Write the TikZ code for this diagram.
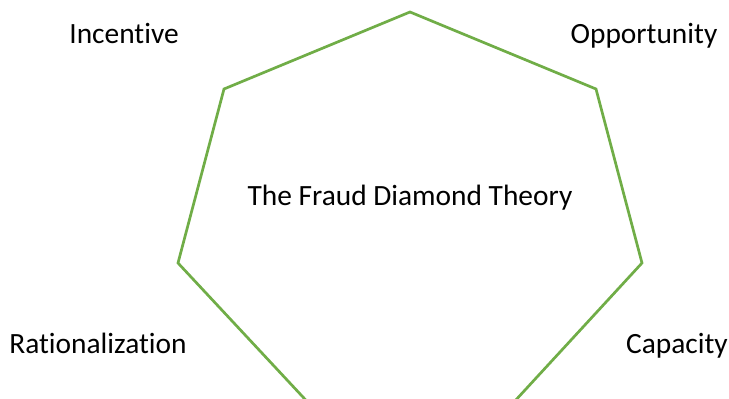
\documentclass[tikz,border=0pt]{standalone}
\usepackage{fontspec}
\setmainfont[Ligatures={NoCommon}]{Carlito}
\usetikzlibrary{positioning}
\definecolor{diamondgreen}{HTML}{70AD47}
\definecolor{labeltext}{HTML}{000000}
\tikzset{
  rim/.style={draw=diamondgreen, line width=2.7pt, line join=miter},
  factor/.style={font=\fontsize{29.4}{35}\selectfont, text=labeltext, inner sep=0pt, anchor=base},
  title/.style={factor},
}

\begin{document}
\begin{tikzpicture}[x=1pt,y=-1pt]
  \useasboundingbox (0,0) rectangle (729,399);
  \clip (0,0) rectangle (729,399);
  % heptagon corners
  \coordinate (vtop) at (410,12);
  \coordinate (vru) at (596,89);
  \coordinate (vrm) at (642,263);
  \coordinate (vrb) at (479,440);
  \coordinate (vlb) at (343,440);
  \coordinate (vlm) at (178,263);
  \coordinate (vlu) at (224,89);
  \draw[rim] (vtop) -- (vru) -- (vrm) -- (vrb) -- (vlb) -- (vlm) -- (vlu) -- cycle;
  % labels
  \node[title] (theory) at (410,205) {The Fraud Diamond Theory};
  \node[factor] (incentive) at (124,43) {Incentive};
  \node[factor] (opportunity) at (644,43) {Opportunity};
  \node[factor] (rational) at (98,353) {Rationalization};
  \node[factor] (capacity) at (677,353) {Capacity};
\end{tikzpicture}
\end{document}
